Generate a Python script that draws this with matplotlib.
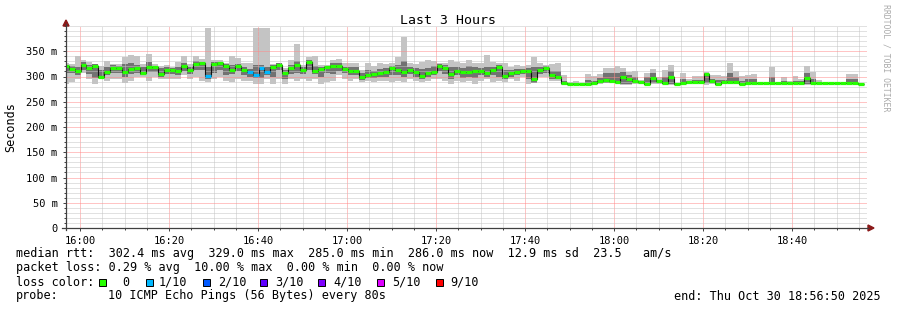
import numpy as np
import matplotlib
matplotlib.use("agg")
import matplotlib.pyplot as plt
import matplotlib.dates as mdates
from matplotlib.ticker import FixedLocator, MultipleLocator, FuncFormatter
from matplotlib.patches import Polygon, Rectangle
from matplotlib.lines import Line2D

W, H = 897, 310

# smokeping step: 80 s, first step starts before the window
first_edge = np.datetime64("2025-10-30T15:56:06")
t_start = np.datetime64("2025-10-30T15:56:50")
t_end = np.datetime64("2025-10-30T18:56:50")

median = [320, 314, 310, 323, 316, 321, 300, 309, 317, 317, 309, 315, 316, 307, 318, 318, 304, 312, 312, 310, 321, 312, 325,
          326, 301, 324, 326, 321, 313, 320, 312, 308, 302, 316, 308, 318, 323, 306, 317, 323, 312, 329, 310, 314, 318, 320,
          321, 314, 311, 311, 300, 302, 304, 307, 308, 316, 313, 308, 312, 308, 301, 307, 308, 321, 317, 305, 310, 308, 308,
          310, 310, 306, 312, 318, 301, 306, 309, 310, 311, 295, 312, 317, 302, 300, 287, 286, 286, 285, 286, 288, 291, 294,
          292, 289, 300, 296, 291, 289, 286, 298, 291, 287, 299, 286, 288, 289, 289, 289, 304, 291, 286, 289, 289, 289, 286,
          287, 287, 287, 287, 287, 287, 287, 287, 287, 287, 297, 287, 287, 287, 287, 287, 287, 287, 287, 286]

smoke_hi = [327, 325, 341, 332, 329, 325, 320, 331, 325, 324, 339, 343, 341, 325, 345, 324, 320, 322, 319, 329, 340, 325, 341,
            335, 397, 332, 333, 326, 341, 337, 327, 327, 397, 397, 397, 325, 327, 316, 333, 365, 322, 339, 341, 322, 322, 332,
            335, 326, 327, 327, 312, 326, 320, 326, 324, 326, 339, 378, 326, 324, 329, 332, 331, 326, 326, 333, 329, 327, 332,
            326, 327, 343, 329, 326, 326, 319, 322, 320, 322, 339, 326, 322, 324, 326, 302, 289, 291, 287, 304, 301, 304, 316,
            316, 320, 316, 309, 310, 294, 306, 314, 299, 312, 322, 287, 306, 296, 301, 301, 309, 302, 302, 301, 326, 311, 301,
            302, 304, 288, 288, 318, 288, 299, 292, 301, 296, 320, 308, 294, 288, 288, 288, 288, 304, 304, 288]

smoke_lo = [286, 289, 296, 306, 296, 286, 296, 292, 296, 296, 287, 292, 299, 299, 292, 299, 296, 296, 296, 296, 302, 296, 299,
            292, 289, 296, 299, 292, 289, 296, 292, 292, 286, 286, 296, 286, 296, 286, 296, 292, 296, 292, 296, 286, 289, 292,
            302, 296, 292, 296, 289, 292, 289, 292, 292, 289, 292, 289, 296, 292, 289, 292, 296, 296, 292, 286, 292, 289, 292,
            286, 292, 296, 289, 292, 289, 296, 292, 299, 286, 287, 299, 299, 292, 292, 284, 284, 284, 284, 284, 285, 286, 287,
            287, 286, 284, 284, 286, 286, 284, 286, 286, 285, 284, 284, 285, 286, 286, 286, 284, 286, 284, 286, 286, 286, 284,
            285, 285, 285, 285, 285, 285, 285, 285, 285, 285, 284, 285, 285, 285, 285, 285, 285, 285, 285, 285]

mid_hi = [323, 320, 318, 328, 322, 324, 312, 318, 322, 320, 324, 326, 322, 318, 328, 320, 316, 318, 316, 318, 326, 318, 330,
          328, 318, 328, 328, 324, 322, 324, 318, 314, 322, 322, 318, 322, 326, 312, 322, 330, 318, 332, 320, 318, 320, 326,
          326, 318, 318, 318, 306, 312, 310, 314, 316, 320, 322, 330, 318, 316, 314, 316, 320, 324, 322, 318, 318, 316, 320,
          318, 316, 318, 318, 322, 312, 312, 314, 314, 316, 318, 318, 320, 310, 310, 292, 287, 287, 286, 294, 292, 298, 306,
          306, 306, 308, 302, 300, 291, 300, 306, 294, 300, 310, 287, 296, 292, 294, 294, 306, 296, 294, 294, 306, 300, 292,
          296, 296, 288, 288, 300, 288, 292, 289, 292, 292, 306, 296, 289, 288, 288, 288, 288, 296, 296, 288]

mid_lo = [306, 306, 302, 312, 304, 298, 298, 302, 306, 306, 300, 304, 306, 302, 308, 308, 300, 304, 304, 302, 310, 304, 312,
          312, 296, 306, 312, 302, 304, 310, 302, 300, 298, 298, 302, 300, 312, 296, 304, 306, 304, 312, 304, 300, 306, 304,
          310, 306, 302, 302, 294, 298, 298, 300, 300, 302, 302, 300, 304, 300, 296, 300, 302, 310, 304, 296, 302, 298, 300,
          298, 302, 300, 302, 300, 296, 300, 302, 304, 296, 288, 304, 306, 296, 296, 285, 285, 285, 285, 285, 286, 287, 288,
          288, 287, 286, 286, 287, 287, 285, 288, 287, 286, 286, 285, 286, 287, 287, 287, 288, 287, 285, 287, 287, 287, 285,
          286, 286, 286, 286, 286, 286, 286, 286, 286, 286, 286, 286, 286, 286, 286, 286, 286, 286, 286, 286]

# lost pings per step (out of 10)
loss = [0] * len(median)
for k in [24, 31, 32, 33, 34]:
    loss[k] = 1

loss_colors = ["#26ff00", "#00b8ff", "#0059ff", "#5e00ff", "#7e00ff", "#dd00ff", "#ff0000"]
loss_labels = ["0", "1/10", "2/10", "3/10", "4/10", "5/10", "9/10"]
loss_bins = [0, 1, 2, 3, 4, 5, 9]

plt.rcParams["font.family"] = ["DejaVu Sans Mono"]


def fx(x):
    return x / W


def fy(y):
    return 1 - y / H


n = len(median)
edges = first_edge + np.arange(n + 1) * np.timedelta64(80, "s")
e = mdates.date2num(edges)

fig = plt.figure(figsize=(W / 100, H / 100), dpi=100)
ax = fig.add_axes([fx(66), fy(228), fx(867) - fx(66), fy(26) - fy(228)])

ax.stairs(smoke_hi, e, baseline=smoke_lo, fill=True, color="#c4c4c4", lw=0, zorder=1)
ax.stairs(mid_hi, e, baseline=mid_lo, fill=True, color="#727272", lw=0, zorder=1.1)

ax.stairs(median, e, baseline=None, color="#101010", lw=0.8, zorder=3)
cols = []
for l in loss:
    idx = max(i for i, b in enumerate(loss_bins) if l >= b)
    cols.append(loss_colors[idx])
ax.hlines(median, e[:-1], e[1:], colors=cols, lw=2.3, zorder=3.1)

ax.set_xlim(mdates.date2num(t_start), mdates.date2num(t_end))
ax.set_ylim(0, 400)

ax.xaxis.set_major_locator(mdates.MinuteLocator(byminute=[0, 20, 40]))
ax.xaxis.set_minor_locator(mdates.MinuteLocator(byminute=range(0, 60, 5)))
ax.xaxis.set_major_formatter(mdates.DateFormatter("%H:%M"))
ax.yaxis.set_major_locator(FixedLocator(np.arange(0, 400, 50)))
ax.yaxis.set_minor_locator(MultipleLocator(10))
ax.yaxis.set_major_formatter(FuncFormatter(lambda v, p: "0" if v == 0 else "%d m" % v))

ax.set_axisbelow(False)
ax.grid(which="minor", color="#c4c4c4", ls=(0, (1, 1)), lw=0.72)
ax.grid(which="major", color="#ff8a8a", ls=(0, (1, 1)), lw=0.72)

ax.tick_params(which="major", length=2, width=0.7, color="#404040", labelsize=7.5, pad=4, labelcolor="#000000")
ax.tick_params(which="minor", length=1.5, width=0.7, color="#404040")
for s in ["top", "right", "left", "bottom"]:
    ax.spines[s].set_visible(False)

# axes with arrows
axis_col = "#404040"
arrow_col = "#8b1a1a"
fig.add_artist(Line2D([fx(66), fx(66)], [fy(230), fy(24)], color=axis_col, lw=0.9))
fig.add_artist(Line2D([fx(62), fx(868)], [fy(228), fy(228)], color=axis_col, lw=0.9))
fig.add_artist(Polygon([[fx(63), fy(26)], [fx(69), fy(26)], [fx(66), fy(20)]], closed=True, color=arrow_col))
fig.add_artist(Polygon([[fx(868), fy(225)], [fx(868), fy(231)], [fx(874), fy(228)]], closed=True, color=arrow_col))

fig.text(fx(448), fy(20), "Last 3 Hours", ha="center", va="center", fontsize=9.5)
fig.text(fx(11), fy(127), "Seconds", ha="center", va="center", rotation=90, fontsize=8.5)
fig.text(fx(886), fy(4), "RRDTOOL / TOBI OETIKER", ha="center", va="top", rotation=270,
         fontsize=5.9, color="#aaaaaa")

fs = 8.5
fig.text(fx(16), fy(254), "median rtt:  302.4 ms avg  329.0 ms max  285.0 ms min  286.0 ms now  12.9 ms sd  23.5   am/s",
         ha="left", va="center", fontsize=fs)
fig.text(fx(16), fy(268), "packet loss: 0.29 % avg  10.00 % max  0.00 % min  0.00 % now",
         ha="left", va="center", fontsize=fs)
fig.text(fx(16), fy(282), "loss color:", ha="left", va="center", fontsize=fs)
sq_x = [99, 146, 203, 260, 318, 377, 436]
lab_x = [122, 159, 218, 275, 333, 392, 450]
for c, lab, sx, lx in zip(loss_colors, loss_labels, sq_x, lab_x):
    fig.add_artist(Rectangle((fx(sx), fy(286)), fx(7), 7 / H, facecolor=c, edgecolor="black", lw=0.7))
    fig.text(fx(lx), fy(282), lab, ha="left", va="center", fontsize=fs)
fig.text(fx(16), fy(296), "probe:", ha="left", va="center", fontsize=fs)
fig.text(fx(108), fy(296), "10 ICMP Echo Pings (56 Bytes) every 80s", ha="left", va="center", fontsize=fs)
fig.text(fx(881), fy(296), "end: Thu Oct 30 18:56:50 2025", ha="right", va="center", fontsize=fs)

fig.savefig("out.png", dpi=100)
